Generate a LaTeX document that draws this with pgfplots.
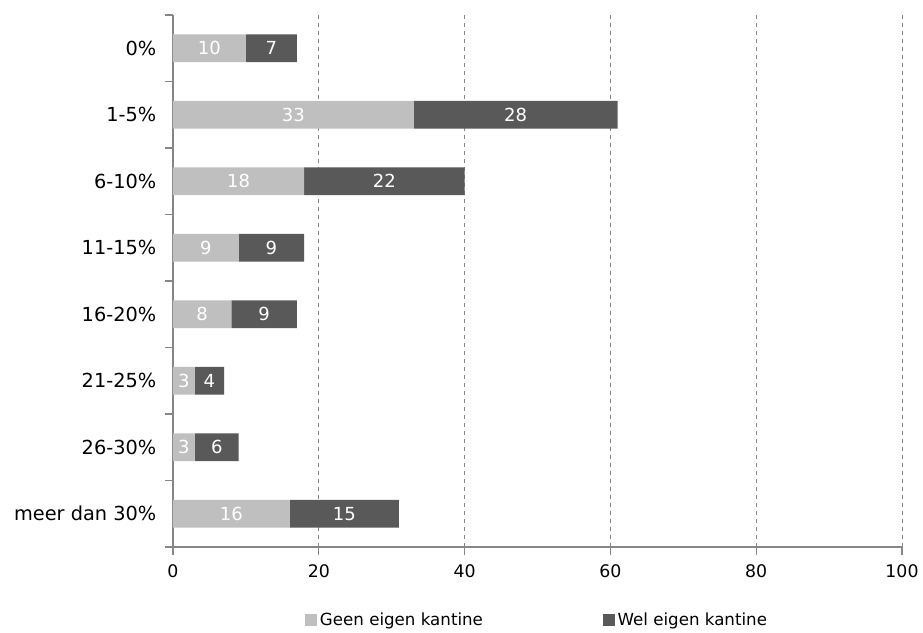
\documentclass[border=0pt]{standalone}
\usepackage{pgfplots}
\pgfplotsset{compat=1.18}
\usepackage{fontspec}
\setmainfont{DejaVu Sans}
\definecolor{geen}{HTML}{BFBFBF}
\definecolor{wel}{HTML}{595959}
\definecolor{axgray}{HTML}{868686}
\begin{document}
\begin{tikzpicture}
\useasboundingbox (-129.75pt,-63.75pt) rectangle (562.5pt,410.25pt);
\begin{axis}[
  at={(0,0)}, anchor=south west, scale only axis,
  width=546.75pt, height=399pt,
  xbar stacked, bar width=0.42,
  xmin=0, xmax=100, ymin=-0.5, ymax=7.5, y dir=reverse,
  xtick={0,20,40,60,80,100},
  ytick={-0.5,0.5,1.5,2.5,3.5,4.5,5.5,6.5,7.5},
  y tick label as interval,
  yticklabels={0\%,1-5\%,6-10\%,11-15\%,16-20\%,21-25\%,26-30\%,meer dan 30\%},
  axis x line*=bottom, axis y line*=left,
  axis line style={axgray, line width=1pt},
  tick style={axgray, line width=1pt},
  tick align=outside, major tick length=6pt,
  xmajorgrids, grid style={axgray, dashed, line width=0.75pt},
  font=\fontsize{13}{15}\selectfont,
  /pgf/number format/assume math mode=true,
  yticklabel style={xshift=-3pt, font=\fontsize{14.5}{16}\selectfont},
  xticklabel style={yshift=-4pt, font=\fontsize{13}{15}\selectfont},
  nodes near coords,
  every node near coord/.append style={font=\fontsize{13.5}{15}\selectfont, color=white, anchor=center},
  legend style={at={(0.5,-0.137)}, anchor=center, draw=none, legend columns=2,
    /tikz/every even column/.append style={column sep=88pt},
    font=\fontsize{12.5}{15}\selectfont},
  legend image code/.code={\fill[#1] (0pt,-4.5pt) rectangle (9pt,4.5pt);},
]
\addplot[fill=geen, draw=none] coordinates {(10,0) (33,1) (18,2) (9,3) (8,4) (3,5) (3,6) (16,7)};
\addplot[fill=wel, draw=none] coordinates {(7,0) (28,1) (22,2) (9,3) (9,4) (4,5) (6,6) (15,7)};
\legend{Geen eigen kantine, Wel eigen kantine}
\end{axis}
\end{tikzpicture}
\end{document}
